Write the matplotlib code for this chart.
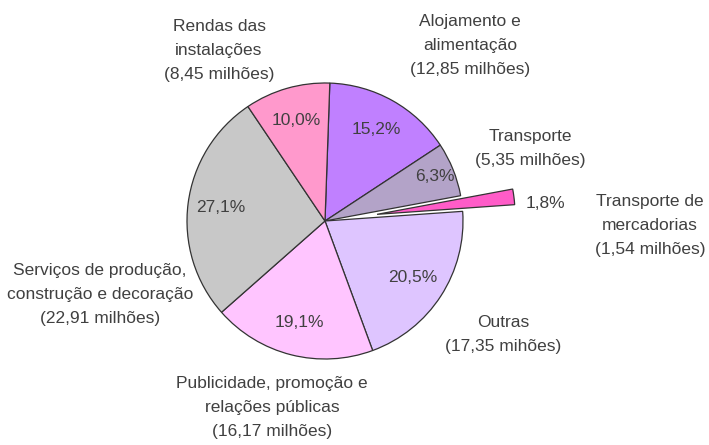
import matplotlib
matplotlib.use("Agg")
import matplotlib.pyplot as plt
import numpy as np

# Data (clockwise from the top)
categories = [
    "Alojamento e\nalimentação\n(12,85 milhões)",
    "Transporte\n(5,35 milhões)",
    "Transporte de\nmercadorias\n(1,54 milhões)",
    "Outras\n(17,35 mihões)",
    "Publicidade, promoção e\nrelações públicas\n(16,17 milhões)",
    "Serviços de produção,\nconstrução e decoração\n(22,91 milhões)",
    "Rendas das\ninstalações\n(8,45 milhões)",
]
values = [12.85, 5.35, 1.54, 17.35, 16.17, 22.91, 8.45]
colors = ["#C080FF", "#B3A3C8", "#FF5CC8", "#DEC5FF", "#FFC5FF", "#C8C8C8", "#FF99CC"]
explode = [0, 0, 0.38, 0, 0, 0, 0]

# label positions in pie-radius units (centre = 0,0)
label_pos = [(1.05, 1.275), (1.486, 0.522), (2.355, -0.029), (1.29, -0.819),
             (-0.384, -1.348), (-1.63, -0.536), (-0.768, 1.232)]
pct_outside = {2: (1.594, 0.13)}

TEXT_COLOR = "#404040"
FONT = ["Liberation Sans Narrow", "Liberation Sans", "DejaVu Sans"]
FS = 12.5

W, H = 709, 445
CX, CY, R = 325, 221, 138

fig = plt.figure(figsize=(W / 100, H / 100), dpi=100)
ax = fig.add_axes([0, 0, 1, 1])

total = sum(values)
pcts = [f"{v / total * 100:.1f}%".replace(".", ",") for v in values]

wedges, _ = ax.pie(values, colors=colors, explode=explode, startangle=88,
                   counterclock=False, radius=1.0, center=(0, 0), frame=True,
                   wedgeprops=dict(edgecolor="#333333", linewidth=0.9))
ax.axis("off")
ax.set_xlim(-CX / R, (W - CX) / R)
ax.set_ylim(-(H - CY) / R, CY / R)

for i, w in enumerate(wedges):
    if i in pct_outside:
        x, y = pct_outside[i]
    else:
        mid = np.deg2rad((w.theta1 + w.theta2) / 2)
        d = 0.86 if i == 1 else 0.76
        x, y = d * np.cos(mid), d * np.sin(mid)
    ax.text(x, y, pcts[i], ha="center", va="center", fontsize=FS,
            color=TEXT_COLOR, family=FONT)

for lab, (x, y) in zip(categories, label_pos):
    ax.text(x, y, lab, ha="center", va="center", fontsize=FS,
            color=TEXT_COLOR, family=FONT, linespacing=1.75)

fig.savefig("out.png", dpi=100)
